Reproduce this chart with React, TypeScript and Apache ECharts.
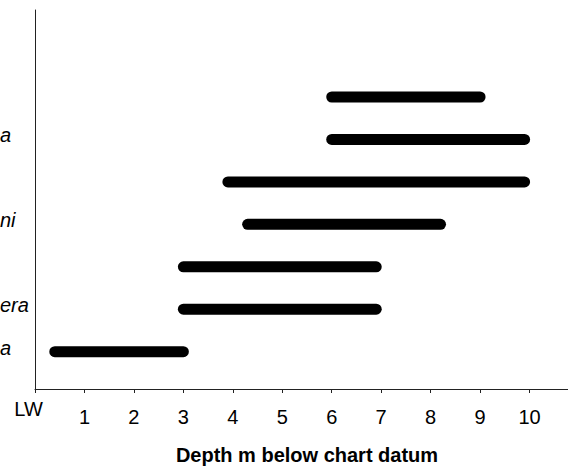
import React, { useEffect, useRef } from "react";
import * as echarts from "echarts";

// Rows from bottom (1) to top (7)
const rowPositions = [1, 2, 3, 4, 5, 6, 7];
const rowLabels = ["a", "era", "", "ni", "", "a", ""];
const depthStart = [0.4, 3.0, 3.0, 4.3, 3.9, 6.0, 6.0];
const depthEnd = [3.0, 6.9, 6.9, 8.2, 9.9, 9.9, 9.0];
const tickLabels = ["LW", "1", "2", "3", "4", "5", "6", "7", "8", "9", "10"];
const axisTitle = "Depth m below chart datum";

const FONT = '"Liberation Sans", Arial, sans-serif';

export default function App() {
  const ref = useRef<HTMLDivElement>(null);

  useEffect(() => {
    if (!ref.current) return;
    const chart = echarts.init(ref.current, undefined, { renderer: "svg" });
    const data = rowPositions.map((y, i) => [y, depthStart[i], depthEnd[i]]);

    chart.setOption({
      animation: false,
      backgroundColor: "#fff",
      grid: {
        left: 35,
        right: -11,
        top: 10,
        bottom: 77,
        containLabel: false,
        outerBoundsMode: "none",
      },
      xAxis: {
        type: "value",
        min: 0,
        max: 11,
        interval: 1,
        name: axisTitle,
        nameLocation: "middle",
        nameGap: 56,
        nameTextStyle: { fontFamily: FONT, fontSize: 20, fontWeight: "bold", color: "#000" },
        axisLine: { show: true, lineStyle: { color: "#222", width: 1 } },
        axisTick: { show: true, length: 4, inside: false, lineStyle: { color: "#222" } },
        splitLine: { show: false },
        axisLabel: {
          margin: 18,
          fontFamily: FONT,
          fontSize: 20,
          color: "#000",
          formatter: (v: number) => (v >= 1 && v <= 10 ? tickLabels[v] : ""),
        },
      },
      yAxis: {
        type: "value",
        min: 0.12,
        max: 9.05,
        axisLine: { show: true, lineStyle: { color: "#222", width: 1 } },
        axisTick: { show: false },
        axisLabel: { show: false },
        splitLine: { show: false },
      },
      graphic: [
        {
          type: "text",
          x: 28.5,
          y: 408.5,
          style: {
            text: tickLabels[0],
            fill: "#000",
            font: `20px ${FONT}`,
            align: "center",
            verticalAlign: "middle",
          },
        },
      ],
      series: [
        {
          type: "custom",
          clip: false,
          encode: { x: [1, 2], y: 0 },
          data,
          renderItem: (params: any, api: any) => {
            const y = api.value(0);
            const s = api.value(1);
            const e = api.value(2);
            const p1 = api.coord([s, y]);
            const p2 = api.coord([e, y]);
            const axisX = api.coord([0, y])[0];
            const label = rowLabels[params.dataIndex];
            const children: any[] = [
              {
                type: "line",
                shape: { x1: p1[0], y1: p1[1], x2: p2[0], y2: p2[1] },
                style: { stroke: "#000", lineWidth: 11, lineCap: "round" },
              },
            ];
            if (label) {
              children.push({
                type: "text",
                x: axisX - 35,
                y: p1[1] - 4,
                style: {
                  text: label,
                  fill: "#000",
                  font: `italic 20px ${FONT}`,
                  align: "left",
                  verticalAlign: "middle",
                },
              });
            }
            return { type: "group", children };
          },
        },
      ],
    });

    return () => chart.dispose();
  }, []);

  return (
    <div
      ref={ref}
      style={{ position: "fixed", left: 0, top: 0, width: 568, height: 466, background: "#fff" }}
    />
  );
}
